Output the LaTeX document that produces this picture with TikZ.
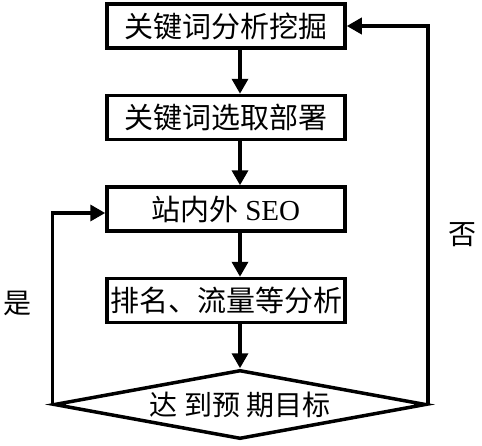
\documentclass[tikz,border=0pt]{standalone}
\usepackage{fontspec}
\setmainfont{Liberation Serif}
\newfontfamily\cjk{Noto Sans CJK SC}
\usetikzlibrary{positioning,arrows.meta,shapes.geometric}

\begin{document}
\begin{tikzpicture}[x=1pt, y=-1pt, line width=3.5pt, >={Triangle[length=15pt,width=16pt]},
		node distance=44pt,
		box/.style={draw, rectangle, minimum width=238pt, minimum height=44pt, inner sep=0pt, font=\fontsize{29}{31}\selectfont\cjk},
		test/.style={draw, diamond, aspect=5.4, minimum width=372pt, minimum height=69pt, inner sep=0pt, font=\fontsize{28}{30}\selectfont\cjk},
		tag/.style={font=\fontsize{28}{30}\selectfont\cjk}]
		\useasboundingbox (0,0) rectangle (482,445);

		\node[box] (mine) at (226,26) {关键词分析挖掘};
		\node[box] (pick) [below=of mine] {关键词选取部署};
		\node[box] (seo) [below=of pick] {站内外 \rmfamily SEO};
		\node[box] (rank) [below=of seo] {排名、流量等分析};
		\node[test] (goal) [below=of rank, xshift=14pt] {达 到预 期目标};

		\node[tag] (yes) at (18,303) {是};
		\node[tag] (no) at (462,235) {否};

		% arrows sit right of the box centres
		\path[->] ([xshift=14pt]mine.south) edge ([xshift=14pt]pick.north);
		\path[->] ([xshift=14pt]pick.south) edge ([xshift=14pt]seo.north);
		\path[->] ([xshift=14pt]seo.south) edge ([xshift=14pt]rank.north);
		\path[->] ([xshift=14pt]rank.south) edge (goal.north);

		\draw[->] (goal.west) |- ([yshift=-4pt]seo.west);
		\draw[->] (goal.east) |- (mine.east);
	\end{tikzpicture}
\end{document}
